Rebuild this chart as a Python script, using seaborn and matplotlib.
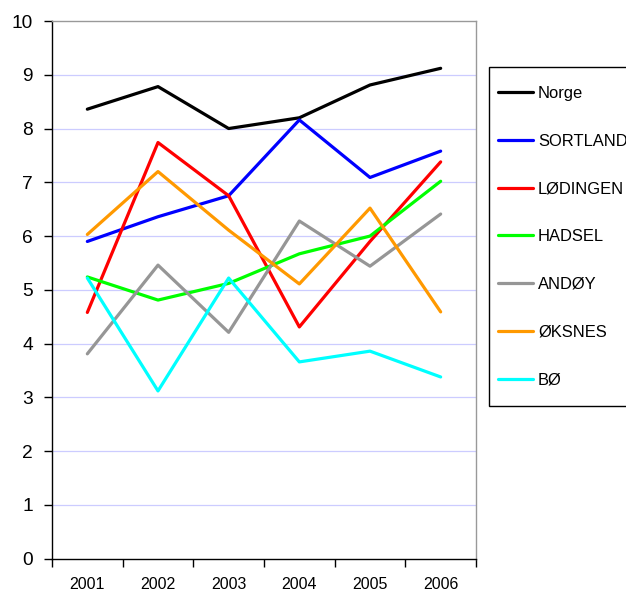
import matplotlib
matplotlib.use("Agg")
import matplotlib.pyplot as plt
from matplotlib.patches import Rectangle
import seaborn as sns
import pandas as pd
import numpy as np

years = ["2001", "2002", "2003", "2004", "2005", "2006"]
series_names = ["Norge", "SORTLAND", "LØDINGEN", "HADSEL", "ANDØY", "ØKSNES", "BØ"]
norge = [8.36, 8.78, 8.00, 8.20, 8.81, 9.12]
sortland = [5.90, 6.36, 6.75, 8.16, 7.09, 7.58]
lodingen = [4.58, 7.74, 6.75, 4.31, 5.90, 7.38]
hadsel = [5.24, 4.81, 5.12, 5.67, 6.00, 7.02]
andoy = [3.81, 5.46, 4.21, 6.28, 5.44, 6.41]
oksnes = [6.03, 7.20, 6.11, 5.11, 6.52, 4.59]
bo = [5.22, 3.12, 5.22, 3.66, 3.86, 3.38]
colors = ["#000000", "#0000FF", "#FF0000", "#00FF00", "#969696", "#FF9900", "#00FFFF"]

values = [norge, sortland, lodingen, hadsel, andoy, oksnes, bo]
df = pd.DataFrame({
    "x": np.tile(np.arange(len(years)), len(series_names)),
    "value": np.concatenate(values),
    "series": np.repeat(series_names, len(years)),
})

sns.set_style("white")
plt.rcParams["font.family"] = ["Liberation Sans", "DejaVu Sans"]
plt.rcParams["text.color"] = "black"
plt.rcParams["xtick.color"] = "black"
plt.rcParams["ytick.color"] = "black"

W, H = 626, 592
fig = plt.figure(figsize=(W / 100, H / 100), dpi=100)
ax = fig.add_axes([52 / W, 1 - 558.7 / H, 424 / W, 537.7 / H])

sns.lineplot(data=df, x="x", y="value", hue="series", hue_order=series_names,
             palette=colors, linewidth=2.3, ax=ax, legend=False)

ax.set_xlim(-0.5, len(years) - 0.5)
ax.set_ylim(0, 10)
ax.set_yticks(range(0, 11))
ax.set_yticklabels([str(i) for i in range(0, 11)], fontsize=13.8)
ax.set_xticks(np.arange(-0.5, len(years), 1.0))
ax.set_xticklabels([])
ax.set_xticks(np.arange(len(years)), minor=True)
ax.set_xticklabels(years, minor=True, fontsize=11.5)
ax.tick_params(axis="x", which="major", direction="out", length=5.5, width=1, color="#000000", bottom=True)
ax.tick_params(axis="x", which="minor", length=0, pad=13.5, bottom=True)
ax.tick_params(axis="y", direction="out", length=5.5, width=1, color="#000000", pad=8.4, left=True)
ax.set_xlabel("")
ax.set_ylabel("")

for y in range(1, 10):
    ax.axhline(y, color="#CCCCFF", linewidth=0.9, zorder=0)

ax.spines["left"].set_color("#000000")
ax.spines["bottom"].set_color("#000000")
ax.spines["top"].set_color("#999999")
ax.spines["right"].set_color("#999999")
for s in ax.spines.values():
    s.set_linewidth(1)

# legend box drawn by hand so the padding matches (box runs off the right edge)
fig.patches.append(Rectangle((488.7 / W, 1 - 406 / H), 150 / W, 339 / H,
                             transform=fig.transFigure, facecolor="white",
                             edgecolor="black", linewidth=1))
handles = [plt.Line2D([], [], color=c, linewidth=2.3) for c in colors]
leg = fig.legend(handles, series_names, loc="upper left",
                 bbox_to_anchor=(498 / W, 1 - 86 / H),
                 fontsize=11.9, frameon=False,
                 handlelength=2.12, handletextpad=0.3, labelspacing=1.98,
                 borderpad=0, borderaxespad=0)

fig.savefig("out.png", dpi=100)
